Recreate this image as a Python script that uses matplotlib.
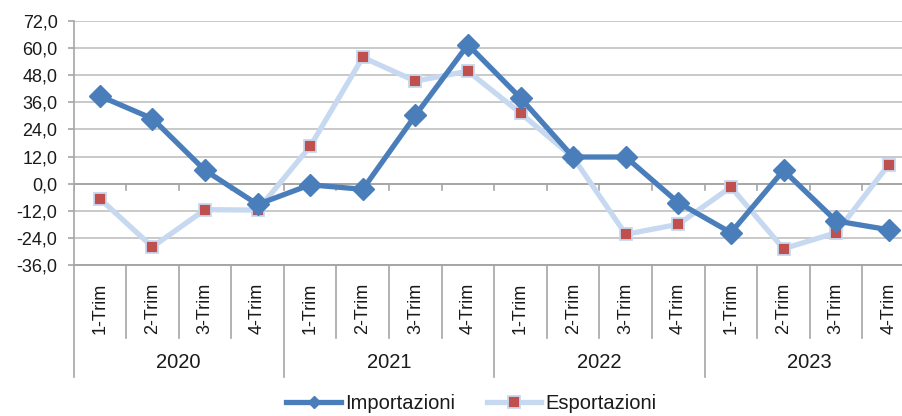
import numpy as np
import matplotlib.pyplot as plt
from matplotlib.lines import Line2D

plt.rcParams['font.family'] = ['Liberation Sans', 'DejaVu Sans']

years = ["2020", "2021", "2022", "2023"]
quarters = ["1-Trim", "2-Trim", "3-Trim", "4-Trim"]
importazioni = [38.8, 28.8, 5.9, -9.2, -0.5, -2.5, 30.2, 61.5,
                37.9, 11.8, 11.8, -8.4, -21.7, 5.9, -16.5, -20.4]
esportazioni = [-6.6, -28.0, -11.5, -11.7, 16.5, 55.9, 45.4, 49.8,
                31.2, 11.6, -22.4, -18.0, -1.5, -28.8, -21.7, 8.4]
yticks = np.arange(-36, 73, 12)

W, H = 902, 416
fig = plt.figure(figsize=(W / 100, H / 100), dpi=100)
ax = fig.add_axes([73.5 / W, (H - 265) / H, (915 - 73.5) / W, (265 - 21) / H])

n = len(importazioni)
x = np.arange(n) + 0.5
grid_c = "#c9c9c9"
axis_c = "#a6a6a6"
imp_c = "#4a7ebb"
exp_c = "#c6d9f0"
text_c = "#1a1a1a"

for v in yticks:
    ax.axhline(v, color=grid_c if v != 0 else axis_c, lw=1.4, zorder=1)
# ticks on the zero line
for i in range(n + 1):
    ax.plot([i, i], [0, -2.6], color=axis_c, lw=1.2, zorder=1)

ax.plot(x, esportazioni, color=exp_c, lw=3.8, marker="s", markersize=8,
        markerfacecolor="#c0504d", markeredgecolor=exp_c, markeredgewidth=1.3,
        zorder=2)
ax.plot(x, importazioni, color=imp_c, lw=3.8, marker="D", markersize=11,
        markerfacecolor=imp_c, markeredgecolor=imp_c, zorder=3)

ax.set_xlim(0, n)
ax.set_ylim(-36, 72)
ax.set_yticks(yticks)
ax.set_yticklabels([f"{v:.1f}".replace(".", ",") for v in yticks], fontsize=13, color=text_c)
ax.tick_params(axis="y", length=4.5, color=axis_c, width=1.2, pad=7)
ax.set_xticks([])
for s in ["top", "right", "bottom"]:
    ax.spines[s].set_visible(False)
ax.spines["left"].set_color(axis_c)
ax.spines["left"].set_linewidth(1.2)

# hierarchical x axis
tr = ax.get_xaxis_transform()
ax_h = 265 - 21
def ay(px):
    return (265 - px) / ax_h

ax.plot([0, n], [0, 0], transform=tr, color=axis_c, lw=1.4, clip_on=False)
for i in range(n + 1):
    bottom = ay(377) if i % 4 == 0 else ay(338)
    ax.plot([i, i], [0, bottom], transform=tr, color=axis_c, lw=1.2, clip_on=False)
for i in range(n):
    ax.text(i + 0.5, ay(308), quarters[i % 4], transform=tr, rotation=90,
            ha="center", va="center", fontsize=13, color=text_c)
for j, yr in enumerate(years):
    ax.text(j * 4 + 2, ay(363), yr, transform=tr, ha="center", va="center",
            fontsize=14.5, color=text_c)

handles = [
    Line2D([], [], color=imp_c, lw=3.8, marker="D", markersize=6,
           markerfacecolor=imp_c, markeredgecolor=imp_c),
    Line2D([], [], color=exp_c, lw=3.8, marker="s", markersize=8,
           markerfacecolor="#c0504d", markeredgecolor=exp_c, markeredgewidth=1.3),
]
fig.legend(handles, ["Importazioni", "Esportazioni"], loc="center",
           bbox_to_anchor=(0.5227, 0.03), ncol=2, frameon=False, fontsize=14.5,
           handlelength=2.7, columnspacing=1.6, handletextpad=0.2,
           labelcolor=text_c, borderpad=0.1)

fig.savefig("out.png", dpi=100)
